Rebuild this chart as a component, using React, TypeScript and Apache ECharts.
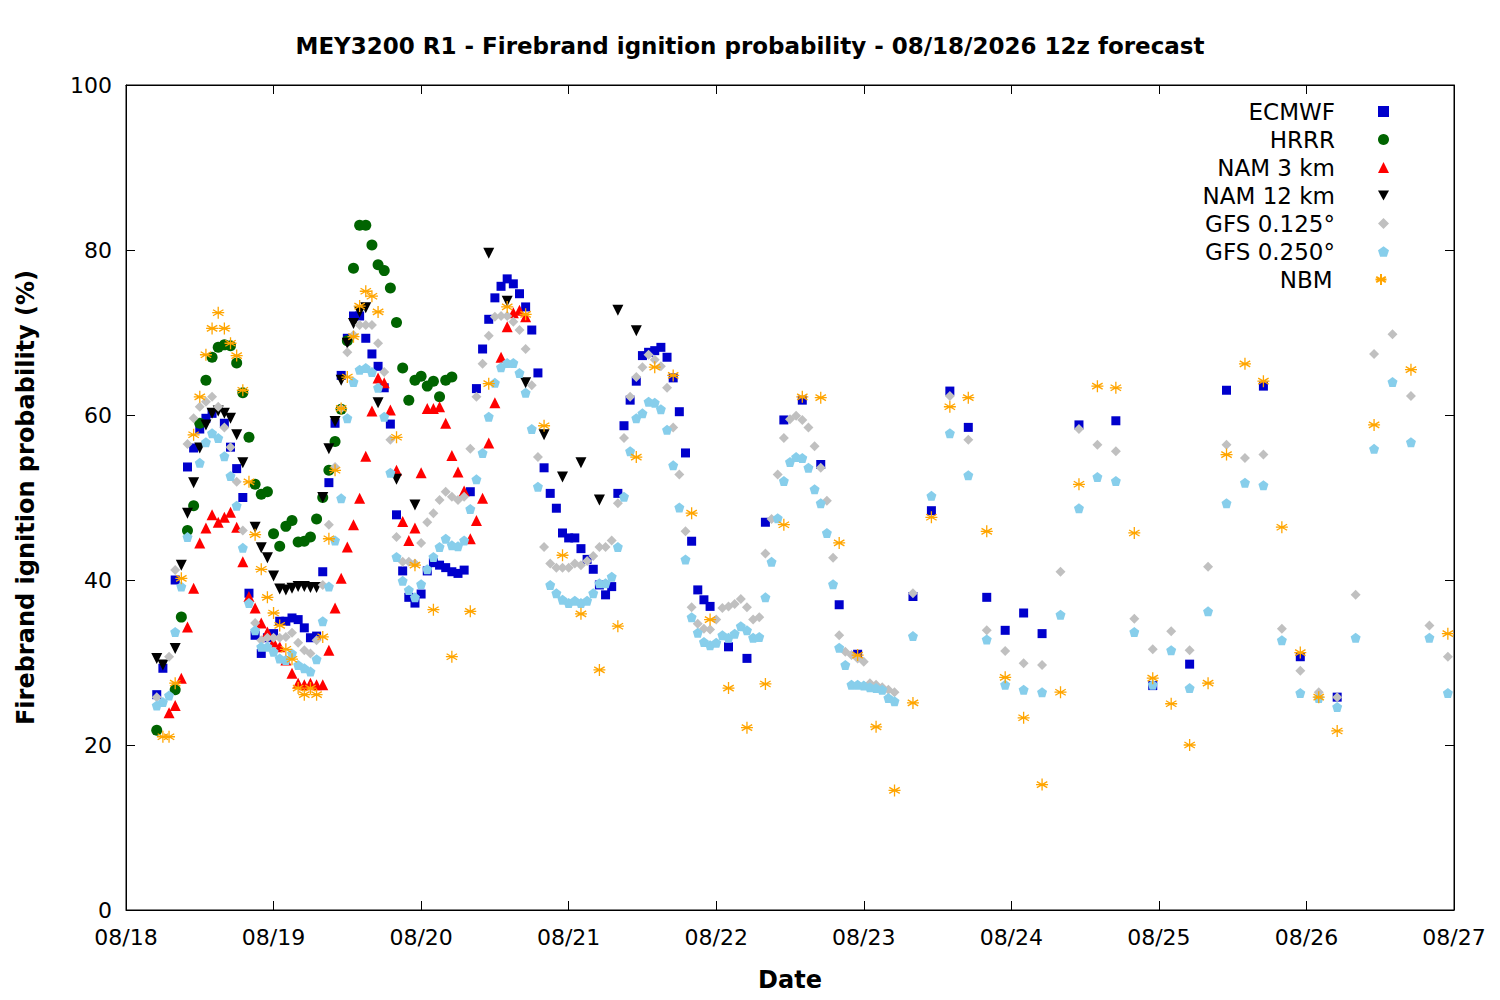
import React, { useEffect, useRef } from "react";
import * as echarts from "echarts";

// hours since 08/18 00:00, value (%)
const ecmwf: number[][] = [
  [5, 26.1], [6, 29.3], [8, 40], [10, 53.7], [11, 56], [12, 58.3], [13, 59.6], [14, 60.2], [16, 59], [17, 56.1], [18, 53.5], [19, 50], [20, 38.4],
  [21, 33.3], [22, 31.1], [23, 33], [24, 33.5], [25, 35], [26, 35], [27, 35.4], [28, 35.2], [29, 34.2], [30, 33], [31, 33.2], [32, 41], [33, 51.8],
  [34, 59], [35, 64.8], [36, 69.3], [37, 72], [38, 72], [39, 69.3], [40, 67.4], [41, 65.9], [42, 63.3], [43, 58.9], [44, 47.9], [45, 41.1], [46, 37.9],
  [47, 37.2], [48, 38.3], [49, 41.1], [50, 42.1], [51, 41.8], [52, 41.5], [53, 41], [54, 40.8], [55, 41.2], [56, 50.7], [57, 63.2], [58, 68], [59, 71.6],
  [60, 74.2], [61, 75.6], [62, 76.5], [63, 75.9], [64, 74.7], [65, 73.1], [66, 70.3], [67, 65.1], [68, 53.6], [69, 50.5], [70, 48.7], [71, 45.7],
  [72, 45.1], [73, 45.1], [74, 43.8], [75, 42.5], [76, 41.3], [77, 39.4], [78, 38.2], [79, 39.2], [80, 50.5], [81, 58.7], [82, 61.8], [83, 64.1],
  [84, 67.2], [85, 67.6], [86, 67.8], [87, 68.2], [88, 67], [89, 64.5], [90, 60.4], [91, 55.4], [92, 44.7], [93, 38.8], [94, 37.6], [95, 36.8],
  [98, 31.9], [101, 30.5], [104, 47], [107, 59.4], [110, 61.8], [113, 54], [116, 37], [119, 31], [128, 38], [131, 48.4], [134, 62.9], [137, 58.5],
  [140, 37.9], [143, 33.9], [146, 36], [149, 33.5], [155, 58.8], [161, 59.3], [167, 27.2], [173, 29.8], [179, 63], [185, 63.5], [191, 30.7], [197, 25.8],
];
const hrrr: number[][] = [
  [5, 21.8], [8, 26.7], [9, 35.5], [10, 46], [11, 49], [12, 59], [13, 64.2], [14, 67], [15, 68.2], [16, 68.5], [17, 68.4], [18, 66.3], [19, 62.7],
  [20, 57.3], [21, 51.6], [22, 50.4], [23, 50.7], [24, 45.6], [25, 44.1], [26, 46.5], [27, 47.2], [28, 44.6], [29, 44.7], [30, 45.2], [31, 47.4],
  [32, 50], [33, 53.3], [34, 56.8], [35, 60.7], [36, 69], [37, 77.8], [38, 83], [39, 83], [40, 80.6], [41, 78.2], [42, 77.5], [43, 75.4], [44, 71.2],
  [45, 65.7], [46, 61.8], [47, 64.2], [48, 64.7], [49, 63.5], [50, 64.1], [51, 62.2], [52, 64.2], [53, 64.6],
];
const nam3: number[][] = [
  [7, 23.9], [8, 24.8], [9, 28.1], [10, 34.3], [11, 39], [12, 44.5], [13, 46.3], [14, 47.9], [15, 47], [16, 47.6], [17, 48.2], [18, 46.4], [19, 42.2],
  [20, 38], [21, 36.6], [22, 34.8], [23, 33.7], [24, 32.5], [25, 31.9], [26, 30.3], [27, 28.7], [28, 27.5], [29, 27.3], [30, 27.5], [31, 27.3], [32, 27.3],
  [33, 31.5], [34, 36.6], [35, 40.2], [36, 44], [37, 46.7], [38, 49.9], [39, 55], [40, 60.5], [41, 64.5], [42, 63.9], [43, 60.6], [44, 53.3], [45, 47.1],
  [46, 44.8], [47, 46.3], [48, 53], [49, 60.8], [50, 60.8], [51, 61], [52, 59], [53, 55.1], [54, 53.1], [55, 50.8], [56, 45], [57, 47.2], [58, 49.9],
  [59, 56.6], [60, 61.5], [61, 67], [62, 70.7], [63, 72.4], [64, 72.7], [65, 71.9],
];
const nam12: number[][] = [
  [5, 30.5], [6, 29.7], [8, 31.7], [9, 41.8], [10, 48.1], [11, 51.8], [12, 56], [13, 58.8], [14, 60.2], [15, 60.5], [16, 60.2], [17, 59.6], [18, 57.6],
  [19, 54.2], [21, 46.4], [22, 43.9], [23, 42.7], [24, 40.5], [25, 38.9], [26, 38.8], [27, 39], [28, 39.2], [29, 39.2], [30, 39.1], [31, 39.1],
  [32, 50], [33, 55.9], [34, 59.2], [35, 64.2], [36, 68.7], [37, 71.1], [38, 72.5], [39, 73], [41, 61.5], [44, 52.2], [47, 49.1], [59, 79.6],
  [62, 73.8], [65, 63.9], [68, 57.6], [71, 52.5], [74, 54.2], [77, 49.7], [80, 72.7], [83, 70.2],
];
const gfs125: number[][] = [
  [5, 25.8], [7, 30.7], [8, 41.2], [10, 56.5], [11, 59.6], [12, 61], [13, 61.6], [14, 62.2], [15, 61], [16, 58.5], [17, 56.1], [18, 51.9], [19, 46],
  [21, 34.8], [22, 32.7], [23, 33], [24, 33], [25, 33], [26, 33.1], [27, 33.6], [28, 32.4], [29, 31.5], [30, 31.1], [31, 32.7], [32, 39.4], [33, 46.7],
  [34, 53.7], [35, 60.8], [36, 67.6], [37, 69.7], [38, 70.9], [39, 70.9], [40, 70.9], [41, 68.7], [42, 65.2], [43, 57], [44, 45.2], [45, 42.2],
  [46, 42.2], [47, 42], [48, 44.5], [49, 47], [50, 48.1], [51, 49.7], [52, 50.7], [53, 50.1], [54, 49.7], [55, 50.1], [56, 55.9], [57, 62.2], [58, 66.2],
  [59, 69.6], [60, 71.9], [61, 72], [62, 72], [63, 71.3], [64, 70.3], [65, 68], [66, 63.6], [67, 54.9], [68, 44], [69, 42], [70, 41.5], [71, 41.5],
  [72, 41.5], [73, 42], [74, 41.8], [75, 42.3], [76, 42.9], [77, 44], [78, 44], [79, 44.8], [80, 49.3], [81, 57.2], [82, 62.2], [83, 64.6], [84, 65.8],
  [85, 67.3], [86, 66.7], [87, 65.9], [88, 63.3], [89, 58.5], [90, 52.8], [91, 45.9], [92, 36.7], [93, 34.7], [94, 34.1], [95, 34], [96, 35.2],
  [97, 36.6], [98, 36.8], [99, 37.1], [100, 37.7], [101, 36.7], [102, 35.2], [103, 35.5], [104, 43.2], [105, 47.4], [106, 52.8], [107, 57.2],
  [108, 59.5], [109, 59.9], [110, 59.4], [111, 58.5], [112, 56.2], [113, 53.6], [114, 49.6], [115, 42.7], [116, 33.3], [117, 31.3], [118, 30.9],
  [119, 30.5], [120, 30.1], [121, 27.5], [122, 27.3], [123, 27], [124, 26.7], [125, 26.4], [128, 38.4], [134, 62.3], [137, 57], [140, 33.9],
  [143, 31.4], [146, 29.9], [149, 29.7], [152, 41], [155, 58.3], [158, 56.4], [161, 55.6], [164, 35.3], [167, 31.6], [170, 33.8], [173, 31.5],
  [176, 41.6], [179, 56.4], [182, 54.8], [185, 55.2], [188, 34.1], [191, 29], [194, 26.4], [197, 25.8], [200, 38.2], [203, 67.4], [206, 69.8],
  [209, 62.3], [212, 34.5], [215, 30.7],
];
const gfs250: number[][] = [
  [5, 24.8], [6, 25.2], [7, 26], [8, 33.7], [9, 39.2], [10, 45.2], [12, 54.2], [13, 56.7], [14, 57.8], [15, 57.2], [16, 55], [17, 52.6], [18, 49],
  [19, 43.9], [20, 37.2], [21, 33.9], [22, 31.9], [23, 31.9], [24, 31.3], [25, 30.5], [26, 30.3], [27, 31.1], [28, 29.7], [29, 29.3], [30, 28.9],
  [31, 30.4], [32, 35], [33, 39.2], [34, 44.8], [35, 49.9], [36, 59.6], [37, 64], [38, 65.5], [39, 65.7], [40, 65.2], [41, 63.3], [42, 59.8], [43, 53],
  [44, 42.8], [45, 39.9], [46, 38.8], [47, 37.9], [48, 39.5], [49, 41.3], [50, 42.8], [51, 44], [52, 45], [53, 44.2], [54, 44.1], [55, 44.8], [56, 48.6],
  [57, 52.2], [58, 55.4], [59, 59.8], [60, 63.9], [61, 65.8], [62, 66.3], [63, 66.3], [64, 65.1], [65, 62.7], [66, 58.3], [67, 51.3], [69, 39.4],
  [70, 38.4], [71, 37.6], [72, 37.2], [73, 37.5], [74, 37.2], [75, 37.5], [76, 38.4], [77, 39.6], [78, 39.6], [79, 40.4], [80, 44], [81, 50.1],
  [82, 55.6], [83, 59.6], [84, 60.2], [85, 61.6], [86, 61.5], [87, 60.7], [88, 58.2], [89, 53.9], [90, 48.8], [91, 42.5], [92, 35.5], [93, 33.6],
  [94, 32.5], [95, 32.1], [96, 32.4], [97, 33.3], [98, 33], [99, 33.5], [100, 34.4], [101, 33.9], [102, 33], [103, 33.1], [104, 37.9], [105, 42.2],
  [106, 47.5], [107, 52], [108, 54.3], [109, 54.9], [110, 54.8], [111, 53.6], [112, 51], [113, 49.3], [114, 45.7], [115, 39.5], [116, 31.8],
  [117, 29.7], [118, 27.3], [119, 27.3], [120, 27.2], [121, 27], [122, 26.9], [123, 26.7], [124, 25.7], [125, 25.3], [128, 33.2], [131, 50.2],
  [134, 57.8], [137, 52.7], [140, 32.8], [143, 27.3], [146, 26.7], [149, 26.4], [152, 35.8], [155, 48.7], [158, 52.5], [161, 52], [164, 33.7],
  [167, 27.3], [170, 31.5], [173, 26.9], [176, 36.2], [179, 49.3], [182, 51.8], [185, 51.5], [188, 32.7], [191, 26.3], [194, 25.7], [197, 24.6],
  [200, 33], [203, 55.9], [206, 64], [209, 56.7], [212, 33], [215, 26.3],
];
const nbm: number[][] = [
  [6, 21], [7, 21], [8, 27.5], [9, 40.2], [11, 57.6], [12, 62.2], [13, 67.3], [14, 70.5], [15, 72.4], [16, 70.5], [17, 68.7], [18, 67.2], [19, 63],
  [20, 51.9], [21, 45.5], [22, 41.3], [23, 37.9], [24, 36], [25, 34.5], [26, 31.6], [27, 30.4], [28, 26.9], [29, 26.1], [30, 26.9], [31, 26.1],
  [32, 33.1], [33, 45], [34, 53.3], [35, 60.8], [36, 64.6], [37, 69.5], [38, 73.2], [39, 75], [40, 74.4], [41, 72.5], [44, 57.3], [47, 41.8],
  [50, 36.4], [53, 30.7], [56, 36.2], [59, 63.8], [62, 73.1], [65, 72.2], [68, 58.7], [71, 43], [74, 35.9], [77, 29.1], [80, 34.4], [83, 54.9],
  [86, 65.8], [89, 64.8], [92, 48.1], [95, 35.2], [98, 26.9], [101, 22.1], [104, 27.4], [107, 46.7], [110, 62.2], [113, 62.1], [116, 44.5],
  [119, 30.9], [122, 22.2], [125, 14.5], [128, 25.1], [131, 47.6], [134, 61], [137, 62.1], [140, 45.9], [143, 28.2], [146, 23.3], [149, 15.2],
  [152, 26.4], [155, 51.6], [158, 63.5], [161, 63.3], [164, 45.7], [167, 28.1], [170, 25], [173, 20], [176, 27.5], [179, 55.2], [182, 66.2],
  [185, 64.1], [188, 46.4], [191, 31.2], [194, 25.8], [197, 21.7], [203, 58.8], [209, 65.5], [215, 33.5],
];

const seriesNames = ["ECMWF", "HRRR", "NAM 3 km", "NAM 12 km", "GFS 0.125°", "GFS 0.250°", "NBM"];
const FONT = "DejaVu Sans";
const PENTAGON = "path://M0,-1L0.951,-0.309L0.588,0.809L-0.588,0.809L-0.951,-0.309Z";
const DOWN_TRI = "path://M-1,-0.9L1,-0.9L0,0.9Z";
const STAR = "path://M0,-1L0,1M-0.87,-0.5L0.87,0.5M-0.87,0.5L0.87,-0.5M-1,0L1,0";

export default function App() {
  const ref = useRef<HTMLDivElement>(null);
  useEffect(() => {
    document.body.style.margin = "0";
    const chart = echarts.init(ref.current!, null, { renderer: "svg" });
    const styles: any[] = [
      { data: ecmwf, symbol: "rect", symbolSize: 9, itemStyle: { color: "#0000cc", opacity: 1 } },
      { data: hrrr, symbol: "circle", symbolSize: 11, itemStyle: { color: "#006400", opacity: 1 } },
      { data: nam3, symbol: "triangle", symbolSize: 11, itemStyle: { color: "#ff0000", opacity: 1 } },
      { data: nam12, symbol: DOWN_TRI, symbolSize: 11, itemStyle: { color: "#000000", opacity: 1 } },
      { data: gfs125, symbol: "diamond", symbolSize: 10, itemStyle: { color: "#c0c0c0", opacity: 1 } },
      { data: gfs250, symbol: PENTAGON, symbolSize: 10, itemStyle: { color: "#87ceeb", opacity: 1 } },
      { data: nbm, symbol: STAR, symbolSize: 12, itemStyle: { color: "none", borderColor: "#ffa500", borderWidth: 1.3, opacity: 1 } },
    ];
    const series: any[] = styles.map((s, i) => ({ type: "scatter", name: seriesNames[i], ...s }));
    series.push({ type: "scatter", name: "_mirror", data: [], xAxisIndex: 1, yAxisIndex: 1 });
    const legends = seriesNames.map((n, i) => ({
      data: [n], right: 106, top: 95 + i * 28, align: "right", itemWidth: 11, itemHeight: 11,
      textStyle: { fontFamily: FONT, fontSize: 23, color: "#000", padding: [0, 38, 0, 0] },
    }));
    const axisCommon = {
      axisLine: { show: true, onZero: false, lineStyle: { color: "#000" } },
      axisTick: { show: true, inside: true, length: 9, lineStyle: { color: "#000" } },
      splitLine: { show: false },
    };
    chart.setOption({
      animation: false,
      title: {
        text: "MEY3200 R1 - Firebrand ignition probability - 08/18/2026 12z forecast",
        left: "center", top: 29,
        textStyle: { fontFamily: FONT, fontSize: 23, fontWeight: "bold", color: "#000" },
      },
      legend: legends,
      grid: { left: 126, right: 46, top: 85, bottom: 90, show: true, borderColor: "#000", borderWidth: 1 },
      xAxis: [
        {
          type: "value", min: 0, max: 216, interval: 24, ...axisCommon,
          name: "Date", nameLocation: "middle", nameGap: 58,
          nameTextStyle: { fontFamily: FONT, fontSize: 24, fontWeight: "bold", color: "#000" },
          axisLabel: {
            fontFamily: FONT, fontSize: 22, color: "#000", margin: 16,
            formatter: (v: number) => "08/" + String(18 + Math.round(v / 24)),
          },
        },
        { type: "value", min: 0, max: 216, interval: 24, position: "top", ...axisCommon, axisLabel: { show: false } },
      ],
      yAxis: [
        {
          type: "value", min: 0, max: 100, interval: 20, ...axisCommon,
          name: "Firebrand ignition probability (%)", nameLocation: "middle", nameGap: 88,
          nameTextStyle: { fontFamily: FONT, fontSize: 24, fontWeight: "bold", color: "#000" },
          axisLabel: { fontFamily: FONT, fontSize: 22, color: "#000", margin: 14 },
        },
        { type: "value", min: 0, max: 100, interval: 20, position: "right", ...axisCommon, axisLabel: { show: false } },
      ],
      series,
    });
    return () => chart.dispose();
  }, []);
  return <div ref={ref} style={{ width: 1500, height: 1000 }} />;
}
